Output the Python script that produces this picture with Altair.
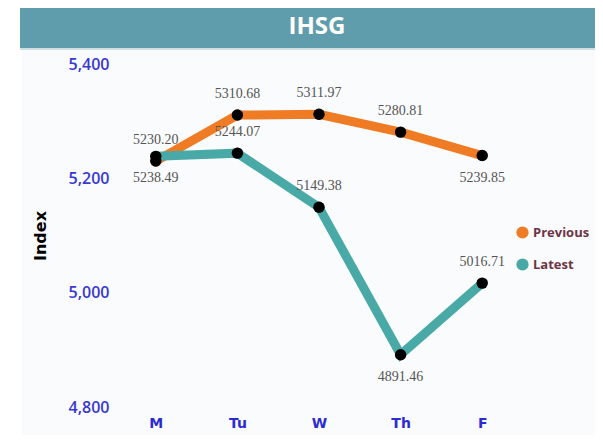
import altair as alt
import pandas as pd

days = ["M", "Tu", "W", "Th", "F"]
previous = [5230.20, 5310.68, 5311.97, 5280.81, 5239.85]
latest = [5238.49, 5244.07, 5149.38, 4891.46, 5016.71]
series_names = ["Previous", "Latest"]
series_colors = ["#f07b25", "#48a9a6"]
y_ticks = [4800, 5000, 5200, 5400]
title_text = "IHSG"

# which labels sit below their point (others sit above)
below = {("Previous", "F"), ("Latest", "M"), ("Latest", "Th")}

rows = []
for name, vals in zip(series_names, [previous, latest]):
    for d, v in zip(days, vals):
        rows.append({"day": d, "value": v, "series": name,
                     "label": f"{v:.2f}", "below": (name, d) in below})
df = pd.DataFrame(rows)

W, H = 408, 343

x = alt.X("day:N", sort=days, title=None,
          scale=alt.Scale(type="point", padding=0.5),
          axis=alt.Axis(labelAngle=0, labelFont="DejaVu Sans", labelFontSize=14,
                        labelFontWeight="bold", labelColor="#2b2bd6", zindex=1,
                        labelPadding=9, ticks=False, domain=False, grid=False))
y = alt.Y("value:Q", title="Index",
          scale=alt.Scale(domain=[4800, 5400], nice=False, zero=False),
          axis=alt.Axis(values=y_ticks, format=",.0f", labelFont="Open Sans",
                        labelFontSize=16, labelFontWeight=600, labelColor="#3838d2",
                        labelPadding=6, ticks=False, domain=False, grid=False, zindex=1,
                        titleFont="DejaVu Sans", titleFontSize=16, titleFontWeight="bold",
                        titleColor="#000000", titlePadding=20))
color_scale = alt.Scale(domain=series_names, range=series_colors)
color_nolegend = alt.Color("series:N", sort=series_names, scale=color_scale, legend=None)
color = alt.Color("series:N", sort=series_names, scale=color_scale,
                  legend=alt.Legend(title=None, orient="none", legendX=401, legendY=162,
                                    zindex=2,
                                    symbolType="circle", symbolSize=150, symbolOpacity=1,
                                    symbolStrokeWidth=0, labelFont="Open Sans",
                                    labelFontSize=13, labelFontWeight="bold",
                                    labelColor="#6e3444", rowPadding=18, labelOffset=4))

bg = alt.Chart(df).mark_rect(color="#fafbfc").encode(
    x=alt.value(-93), x2=alt.value(W + 80), y=alt.value(-16), y2=alt.value(H + 40))
band = alt.Chart(df).mark_rect(color="#5f9dac").encode(
    x=alt.value(-95), x2=alt.value(W + 80), y=alt.value(-60), y2=alt.value(-16))
band_line = alt.Chart(df).mark_rect(color="#cfe0e5").encode(
    x=alt.value(-95), x2=alt.value(W + 80), y=alt.value(-16), y2=alt.value(-14))
title = alt.Chart(pd.DataFrame({"t": [title_text]})).mark_text(
    font="Open Sans", fontSize=24, fontWeight="bold", color="white").encode(
    text="t:N", x=alt.value(202), y=alt.value(-37))

base = alt.Chart(df)
lines = base.mark_line(strokeWidth=9).encode(x=x, y=y, color=color_nolegend, detail="series:N")
dots_col = base.mark_circle(size=120, opacity=1).encode(x=x, y=y, color=color)
points = base.mark_circle(size=130, color="black", opacity=1).encode(x=x, y=y, detail="series:N")
lab_above = base.transform_filter("!datum.below").mark_text(
    font="Liberation Serif", fontSize=14, color="#555555", dy=-21).encode(x=x, y=y, text="label:N")
lab_below = base.transform_filter("datum.below").mark_text(
    font="Liberation Serif", fontSize=14, color="#555555", dy=22).encode(x=x, y=y, text="label:N")

chart = alt.layer(bg, band, band_line, title, lines, dots_col, points, lab_above, lab_below).properties(
    width=W, height=H,
    autosize=alt.AutoSizeParams(type="none"),
    padding={"left": 107, "top": 56, "right": 72, "bottom": 28},
).resolve_legend(color="independent").configure_view(stroke=None).configure(background="white")

chart.save("out.html", embed_options={"renderer": "svg", "actions": False})
